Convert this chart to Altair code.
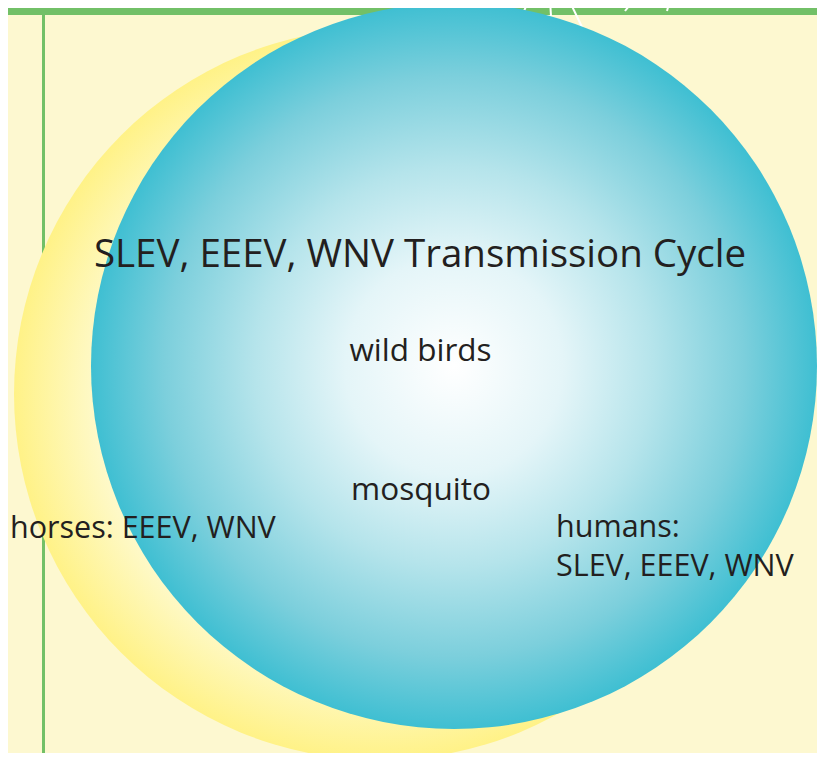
import altair as alt
import pandas as pd

# ---- data (reference pixel coordinates of the illustration) ----
circle_names = ["birds-horses halo", "transmission cycle"]
circle_cx = [380, 454]
circle_cy = [394, 366]
circle_r = [366, 363]

ray_x1 = [529, 550, 569, 602, 633, 670]
ray_y1 = [0, 0, 0, 0, 1, 0]
ray_x2 = [524, 551, 582, 611, 625, 667]
ray_y2 = [11, 16, 27, 7, 11, 11]

bar_x = [0]
bar_x2 = [830]
bar_y = [0]
bar_y2 = [15]

vline_x = [43.5]
vline_y = [15]
vline_y2 = [770]

labels = ["SLEV, EEEV, WNV Transmission Cycle", "wild birds", "mosquito",
          "horses: EEEV, WNV", "humans:", "SLEV, EEEV, WNV"]
label_x = [420, 420.5, 421, 10, 556, 556]
label_y = [267, 361, 500, 538, 537, 576]
label_size = [38.5, 31.5, 31.5, 30.5, 30.5, 30.5]
label_align = ["center", "center", "center", "left", "left", "left"]

W, H = 809, 745
OFF = 8
xs = alt.Scale(domain=[OFF, OFF + W], nice=False, zero=False)
ys = alt.Scale(domain=[OFF, OFF + H], nice=False, zero=False, reverse=True)

circles = pd.DataFrame({"name": circle_names, "cx": circle_cx, "cy": circle_cy, "r": circle_r})
# Vega circle symbol: diameter = sqrt(size)
circles["area"] = [(2 * r) ** 2 for r in circle_r]
rays = pd.DataFrame({"x": ray_x1, "y": ray_y1, "x2": ray_x2, "y2": ray_y2})
bar = pd.DataFrame({"x": bar_x, "x2": bar_x2, "y": bar_y, "y2": bar_y2})
vline = pd.DataFrame({"x": vline_x, "y": vline_y, "y2": vline_y2})
text_df = pd.DataFrame({"t": labels, "x": label_x, "y": label_y, "s": label_size, "a": label_align})

green = "#72c067"

bar_layer = alt.Chart(bar).mark_rect(color=green).encode(
    x=alt.X("x:Q", scale=xs, axis=None), x2="x2:Q",
    y=alt.Y("y:Q", scale=ys, axis=None), y2="y2:Q")

vline_layer = alt.Chart(vline).mark_rule(color=green, strokeWidth=3).encode(
    x=alt.X("x:Q", scale=xs, axis=None),
    y=alt.Y("y:Q", scale=ys, axis=None), y2="y2:Q")

ray_layer = alt.Chart(rays).mark_rule(color="white", strokeWidth=2).encode(
    x=alt.X("x:Q", scale=xs, axis=None), x2="x2:Q",
    y=alt.Y("y:Q", scale=ys, axis=None), y2="y2:Q")

yellow_grad = alt.RadialGradient(
    gradient="radial",
    stops=[alt.GradientStop(offset=0, color="#fffce2"),
           alt.GradientStop(offset=0.78, color="#fef9c8"),
           alt.GradientStop(offset=1, color="#fff287")],
    x1=0.5, y1=0.5, r1=0, x2=0.5, y2=0.5, r2=0.5)

blue_grad = alt.RadialGradient(
    gradient="radial",
    stops=[alt.GradientStop(offset=0, color="#ffffff"),
           alt.GradientStop(offset=0.3, color="#e4f5f8"),
           alt.GradientStop(offset=0.55, color="#b5e4eb"),
           alt.GradientStop(offset=0.8, color="#7ccfdc"),
           alt.GradientStop(offset=1, color="#3fbfd2")],
    x1=0.5, y1=0.5, r1=0, x2=0.5, y2=0.5, r2=0.5)

def circle_layer(name, grad):
    return alt.Chart(circles).transform_filter(alt.datum.name == name).mark_circle(
        fill=grad, opacity=1, fillOpacity=1, strokeWidth=0).encode(
        x=alt.X("cx:Q", scale=xs, axis=None),
        y=alt.Y("cy:Q", scale=ys, axis=None),
        size=alt.Size("area:Q", scale=None, legend=None))

yellow_layer = circle_layer(circle_names[0], yellow_grad)
blue_layer = circle_layer(circle_names[1], blue_grad)

def text_layer(align):
    return alt.Chart(text_df).transform_filter(alt.datum.a == align).mark_text(
        font="Open Sans", color="#231f20", align=align, baseline="alphabetic").encode(
        x=alt.X("x:Q", scale=xs, axis=None),
        y=alt.Y("y:Q", scale=ys, axis=None),
        text="t:N",
        size=alt.Size("s:Q", scale=None, legend=None))

chart = alt.layer(
    bar_layer, vline_layer, ray_layer, yellow_layer, blue_layer,
    text_layer("center"), text_layer("left")
).properties(
    width=W, height=H, padding=0, autosize="none", background="#fdf8d0"
).configure_view(stroke=None, clip=True)

chart.save("out.html", embed_options={"renderer": "svg", "actions": False})
